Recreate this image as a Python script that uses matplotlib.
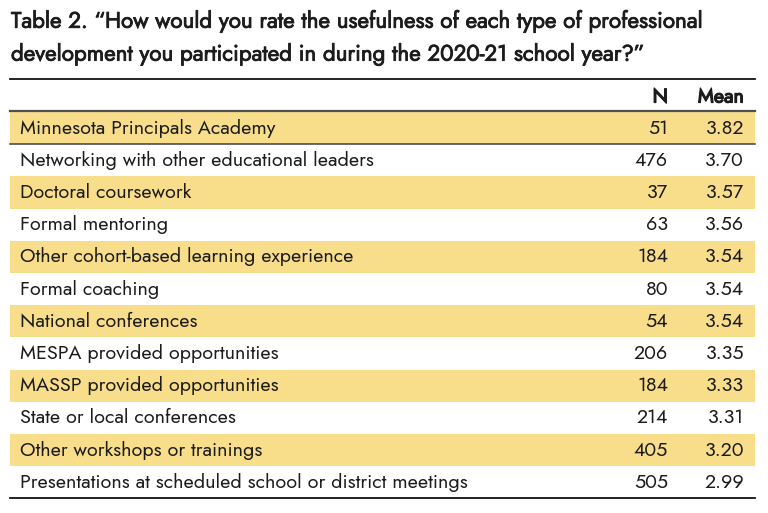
import matplotlib.pyplot as plt
import matplotlib.patheffects as pe
from matplotlib.patches import Rectangle

# table data
title = ("Table 2. \u201cHow would you rate the usefulness of each type of professional\n"
         "development you participated in during the 2020-21 school year?\u201d")
col_headers = ["N", "Mean"]
categories = [
    "Minnesota Principals Academy",
    "Networking with other educational leaders",
    "Doctoral coursework",
    "Formal mentoring",
    "Other cohort-based learning experience",
    "Formal coaching",
    "National conferences",
    "MESPA provided opportunities",
    "MASSP provided opportunities",
    "State or local conferences",
    "Other workshops or trainings",
    "Presentations at scheduled school or district meetings",
]
n_values = [51, 476, 37, 63, 184, 80, 54, 206, 184, 214, 405, 505]
means = [3.82, 3.70, 3.57, 3.56, 3.54, 3.54, 3.54, 3.35, 3.33, 3.31, 3.20, 2.99]

band_color = "#F8DD8A"
text_color = "#1c1c1c"
font = ["Jost", "Lato", "DejaVu Sans"]
fs = 14.2

# faux bold, Jost only ships one weight here
semi = [pe.withStroke(linewidth=0.6, foreground=text_color)]
bold = [pe.withStroke(linewidth=0.9, foreground=text_color)]

W, H = 768, 513
fig = plt.figure(figsize=(W / 100, H / 100), dpi=100)
ax = fig.add_axes([0, 0, 1, 1])
ax.set_xlim(0, W)
ax.set_ylim(H, 0)
ax.axis("off")

left, right = 10, 755
top_rows = 112
row_h = 32.2
x_label = 20
x_n = 668
x_mean = 744

# title
ax.text(11, 9, title, fontsize=16.1, family=font, color=text_color,
        va="top", ha="left", linespacing=1.55, path_effects=semi)

# rules and header
ax.plot([left, right], [78.5, 78.5], color="#111111", lw=1.3)
ax.text(x_n, 97, col_headers[0], fontsize=fs, family=font, ha="right",
        va="center", color=text_color, path_effects=bold)
ax.text(x_mean, 97, col_headers[1], fontsize=fs, family=font, ha="right",
        va="center", color=text_color, path_effects=bold)

for i, (cat, n, m) in enumerate(zip(categories, n_values, means)):
    y0 = top_rows + i * row_h
    yc = y0 + row_h / 2
    if i % 2 == 0:
        ax.add_patch(Rectangle((left, y0), right - left, row_h,
                               facecolor=band_color, edgecolor="none"))
    ax.text(x_label, yc, cat, fontsize=fs, family=font,
            ha="left", va="center", color=text_color)
    ax.text(x_n, yc, f"{n}", fontsize=fs, family=font,
            ha="right", va="center", color=text_color)
    ax.text(x_mean, yc, f"{m:.2f}", fontsize=fs, family=font,
            ha="right", va="center", color=text_color)

ax.plot([left, right], [111, 111], color="#505050", lw=1.6)
ax.plot([left, right], [top_rows + row_h, top_rows + row_h],
        color="#404040", lw=1.1)
bottom = top_rows + len(categories) * row_h
ax.plot([left, right], [bottom, bottom], color="#111111", lw=1.3)

fig.savefig("out.png", dpi=100)
